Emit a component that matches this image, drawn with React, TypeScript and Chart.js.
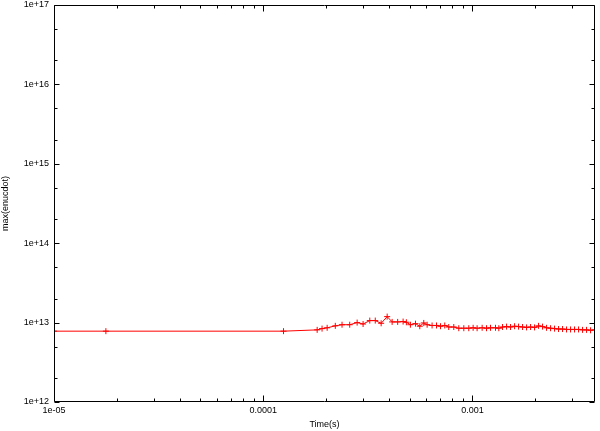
import React, { useEffect, useRef } from "react";
import { Chart, registerables } from "chart.js";

Chart.register(...registerables);

// ---- data ----
const times: number[] = [
  1.0e-5, 1.77e-5, 1.25e-4, 1.81e-4, 1.91e-4, 2.02e-4, 2.21e-4, 2.38e-4, 2.59e-4,
  2.81e-4, 3.0e-4, 3.23e-4, 3.43e-4, 3.66e-4, 3.91e-4, 4.13e-4, 4.39e-4, 4.66e-4,
  4.83e-4, 5.05e-4, 5.34e-4, 5.6e-4, 5.85e-4, 6.07e-4, 6.41e-4, 6.73e-4, 7.03e-4,
  7.37e-4, 7.7e-4, 8.14e-4, 8.6e-4, 9.09e-4, 9.6e-4, 1.007e-3, 1.052e-3, 1.112e-3,
  1.167e-3, 1.219e-3, 1.288e-3, 1.336e-3, 1.392e-3, 1.455e-3, 1.52e-3, 1.589e-3,
  1.66e-3, 1.735e-3, 1.813e-3, 1.895e-3, 1.98e-3, 2.069e-3, 2.162e-3, 2.259e-3,
  2.361e-3, 2.467e-3, 2.578e-3, 2.694e-3, 2.815e-3, 2.942e-3, 3.074e-3, 3.213e-3,
  3.357e-3, 3.508e-3, 3.666e-3, 3.83e-3,
];
const enucdot: number[] = [
  7.8e12, 7.8e12, 7.8e12, 8.1e12, 8.4e12, 8.6e12, 9.1e12, 9.4e12, 9.4e12,
  1.0e13, 9.6e12, 1.06e13, 1.06e13, 9.8e12, 1.19e13, 1.02e13, 1.02e13, 1.03e13,
  1.01e13, 9.4e12, 9.7e12, 9.0e12, 9.9e12, 9.4e12, 9.2e12, 9.2e12, 9.0e12,
  9.2e12, 8.8e12, 8.8e12, 8.5e12, 8.5e12, 8.5e12, 8.6e12, 8.5e12, 8.6e12,
  8.5e12, 8.6e12, 8.6e12, 8.5e12, 8.8e12, 8.9e12, 8.8e12, 9.0e12,
  8.9e12, 8.8e12, 8.7e12, 8.8e12, 8.7e12, 9.1e12, 8.9e12, 8.6e12,
  8.5e12, 8.4e12, 8.3e12, 8.3e12, 8.2e12, 8.2e12, 8.2e12, 8.2e12,
  8.1e12, 8.1e12, 8.0e12, 8.1e12,
];

const xMin = 1e-5;
const xMax = 3.85e-3;
const yMin = 1e12;
const yMax = 1e17;

const xTickValues: number[] = [1e-5, 1e-4, 1e-3];
const xTickLabels: string[] = ["1e-05", "0.0001", "0.001"];
const yTickValues: number[] = [1e12, 1e13, 1e14, 1e15, 1e16, 1e17];
const yTickLabels: string[] = ["1e+12", "1e+13", "1e+14", "1e+15", "1e+16", "1e+17"];
const xMinorMultipliers: number[] = [1, 2, 3, 4, 5, 6, 7, 8, 9];
const yMinorMultipliers: number[] = [1, 2, 5];

const xTitle = "Time(s)";
const yTitle = "max(enucdot)";

const FONT = { family: "'Liberation Sans', Arial, Helvetica, sans-serif", size: 9 };

const framePlugin = {
  id: "gnuplotFrame",
  afterDatasetsDraw(chart: any) {
    const { ctx, chartArea } = chart;
    const xs = chart.scales.x;
    const ys = chart.scales.y;
    const L = Math.round(chartArea.left) + 0.5;
    const R = Math.round(chartArea.right) - 0.5;
    const T = Math.round(chartArea.top) + 0.5;
    const B = Math.round(chartArea.bottom) - 0.5;
    ctx.save();
    ctx.strokeStyle = "#000";
    ctx.lineWidth = 1;
    ctx.beginPath();
    ctx.rect(L, T, R - L, B - T);
    ctx.stroke();
    ctx.beginPath();
    // x ticks (bottom + mirrored top)
    for (const d of xTickValues) {
      for (const m of xMinorMultipliers) {
        const v = d * m;
        if (v < xMin || v > xMax) continue;
        const px = Math.round(xs.getPixelForValue(v)) + 0.5;
        const len = m === 1 ? 6 : 3;
        ctx.moveTo(px, B);
        ctx.lineTo(px, B - len);
        ctx.moveTo(px, T);
        ctx.lineTo(px, T + len);
      }
    }
    // y ticks (left + mirrored right)
    for (const d of yTickValues) {
      for (const m of yMinorMultipliers) {
        const v = d * m;
        if (v < yMin || v > yMax) continue;
        const py = Math.round(ys.getPixelForValue(v)) + 0.5;
        const len = m === 1 ? 5 : 3;
        ctx.moveTo(L, py);
        ctx.lineTo(L + len, py);
        ctx.moveTo(R, py);
        ctx.lineTo(R - len, py);
      }
    }
    ctx.stroke();
    ctx.restore();
  },
};

export default function App() {
  const canvasRef = useRef<HTMLCanvasElement | null>(null);

  useEffect(() => {
    document.body.style.margin = "0";
    const canvas = canvasRef.current;
    if (!canvas) return;
    const chart = new Chart(canvas, {
      type: "line",
      data: {
        datasets: [
          {
            label: "max(enucdot)",
            data: times.map((t, i) => ({ x: t, y: enucdot[i] })),
            borderColor: "#ff0000",
            backgroundColor: "#ff0000",
            borderWidth: 1,
            pointStyle: "cross",
            pointRadius: 3,
            pointBorderWidth: 1,
            pointBorderColor: "#ff0000",
            tension: 0,
            fill: false,
          },
        ],
      },
      options: {
        animation: false,
        responsive: true,
        maintainAspectRatio: false,
        layout: { padding: { top: 4, right: 4, left: 0, bottom: 0 } },
        plugins: {
          legend: { display: false },
          tooltip: { enabled: false },
        },
        scales: {
          x: {
            type: "logarithmic",
            position: "bottom",
            min: xMin,
            max: xMax,
            bounds: "data",
            grid: { display: false, drawTicks: false },
            border: { display: false },
            afterBuildTicks: (scale: any) => {
              scale.ticks = xTickValues.map((v) => ({ value: v }));
            },
            afterFit: (scale: any) => {
              scale.height = 29;
              scale.paddingLeft = 0;
              scale.paddingRight = 0;
            },
            ticks: {
              autoSkip: false,
              maxRotation: 0,
              minRotation: 0,
              padding: 3,
              color: "#000",
              font: FONT,
              callback: (_v: any, i: number) => xTickLabels[i],
            },
            title: {
              display: true,
              text: xTitle,
              color: "#000",
              font: FONT,
              padding: { top: 0, bottom: 1 },
            },
          },
          y: {
            type: "logarithmic",
            position: "left",
            min: yMin,
            max: yMax,
            bounds: "data",
            grid: { display: false, drawTicks: false },
            border: { display: false },
            afterBuildTicks: (scale: any) => {
              scale.ticks = yTickValues.map((v) => ({ value: v }));
            },
            afterFit: (scale: any) => {
              scale.width = 54;
              scale.paddingTop = 0;
              scale.paddingBottom = 0;
            },
            ticks: {
              autoSkip: false,
              padding: 5,
              color: "#000",
              font: FONT,
              callback: (_v: any, i: number) => yTickLabels[i],
            },
            title: {
              display: true,
              text: yTitle,
              color: "#000",
              font: FONT,
              padding: { top: 0, bottom: 0 },
            },
          },
        },
      },
      plugins: [framePlugin],
    });
    return () => chart.destroy();
  }, []);

  return (
    <div style={{ position: "absolute", left: 0, top: 0, width: 600, height: 431, background: "#fff" }}>
      <canvas ref={canvasRef} />
    </div>
  );
}
